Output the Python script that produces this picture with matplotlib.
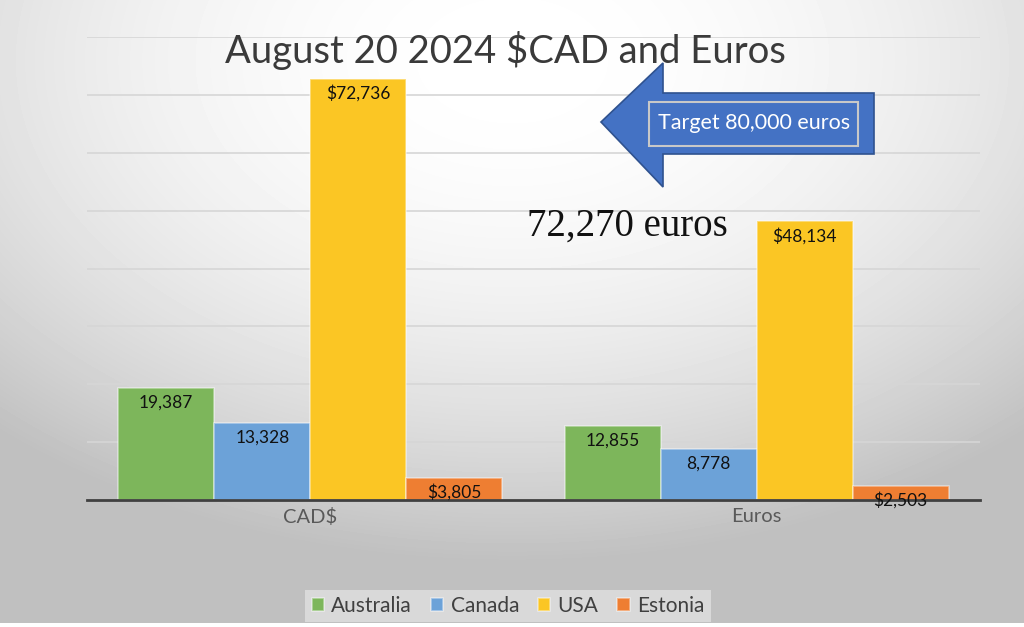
import numpy as np
import matplotlib
matplotlib.use("Agg")
import matplotlib.pyplot as plt
from matplotlib.patches import Polygon, Rectangle

# data
categories = ["CAD$", "Euros"]
countries = ["Australia", "Canada", "USA", "Estonia"]
australia = [19387, 12855]
canada = [13328, 8778]
usa = [72736, 48134]
estonia = [3805, 2503]
label_prefix = ["", "", "$", "$"]
colors = ["#7DB65B", "#6CA2D8", "#FBC624", "#EE7E32"]

W, H = 1024, 627
plt.rcParams['font.family'] = ['Lato', 'DejaVu Sans']

fig = plt.figure(figsize=(W / 100, H / 100), dpi=100)

# radial grey background
bg = fig.add_axes([0, 0, 1, 1], zorder=-10)
yy, xx = np.mgrid[0:H, 0:W]
t = np.sqrt(((xx - 512) / 760.0) ** 2 + ((yy - 60) / 500.0) ** 2)
val = 1 - 0.247 * np.clip(t, 0, 1) ** 2
val[623:, :] = 1.0
bg.imshow(val, cmap="gray", vmin=0, vmax=1, aspect="auto", interpolation="bilinear")
bg.axis("off")


def px(x, y):
    return (x / W, 1 - y / H)


ax = fig.add_axes([87 / W, 1 - 500 / H, (980 - 87) / W, (500 - 37) / H])
ax.set_facecolor("none")

series = [australia, canada, usa, estonia]
x = np.arange(len(categories))
width = 0.215
for i, (name, vals) in enumerate(zip(countries, series)):
    pos = x + (i - 1.5) * width
    bars = ax.bar(pos, vals, width, color=colors[i], label=name,
                  edgecolor=(1, 1, 1, 0.45), linewidth=1.2, zorder=3)
    for b, v in zip(bars, vals):
        ax.annotate(f"{label_prefix[i]}{v:,}", (b.get_x() + b.get_width() / 2, v),
                    xytext=(0, -10.5), textcoords="offset points",
                    ha="center", va="center", fontsize=12.5, color="#111111", zorder=5)

ax.set_xlim(-0.5, 1.5)
ax.set_ylim(0, 80000)
ax.set_yticks(np.arange(10000, 80001, 10000))
ax.yaxis.grid(True, color="#d6d6d6", linewidth=1.2, zorder=0)
ax.tick_params(axis="y", left=False, labelleft=False)
ax.set_xticks(x)
ax.set_xticklabels(categories, fontsize=14.5, color="#595959")
ax.tick_params(axis="x", length=0, pad=6)
for s in ["top", "right", "left"]:
    ax.spines[s].set_visible(False)
ax.spines["bottom"].set_color("#404040")
ax.spines["bottom"].set_linewidth(2)
ax.spines["bottom"].set_zorder(4)

fig.text(*px(505, 50), "August 20 2024 $CAD and Euros", ha="center", va="center",
         fontsize=27.5, color="#3a3a3a")

# block arrow
arrow_pts = [px(601, 122), px(663, 63), px(663, 93), px(874, 93),
             px(874, 154), px(663, 154), px(663, 187)]
fig.patches.append(Polygon(arrow_pts, closed=True, transform=fig.transFigure,
                           facecolor="#4472C4", edgecolor="#2F528F", linewidth=1.2))
x0, y0 = px(649, 146)
x1, y1 = px(858, 102)
fig.patches.append(Rectangle((x0, y0), x1 - x0, y1 - y0, transform=fig.transFigure,
                             facecolor="none", edgecolor="#C8C8C8", linewidth=1.5))
fig.text(*px(754, 123), "Target 80,000 euros", ha="center", va="center",
         fontsize=15.5, color="white")

fig.text(*px(527, 226), "72,270 euros", ha="left", va="center",
         fontsize=28, color="#111111", family=["Liberation Serif", "DejaVu Serif"])

leg = fig.legend(loc="center", bbox_to_anchor=px(508, 606), ncol=4, fontsize=15,
                 frameon=True, fancybox=False, handlelength=0.6, handleheight=0.6,
                 handletextpad=0.35, columnspacing=0.9, borderpad=0.3)
leg.get_frame().set_facecolor("#d9d9d9")
leg.get_frame().set_edgecolor("none")
leg.get_frame().set_alpha(1)
for t_ in leg.get_texts():
    t_.set_color("#404040")

fig.savefig("out.png", dpi=100)
